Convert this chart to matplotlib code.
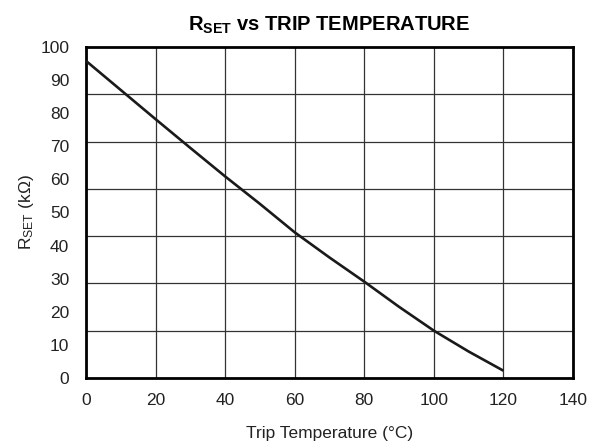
import matplotlib
matplotlib.use("Agg")
import matplotlib.pyplot as plt
import numpy as np

plt.rcParams['font.family'] = ['Liberation Sans', 'DejaVu Sans']
plt.rcParams['mathtext.fontset'] = 'custom'
plt.rcParams['mathtext.rm'] = 'Liberation Sans'
plt.rcParams['mathtext.bf'] = 'Liberation Sans:bold'
plt.rcParams['mathtext.it'] = 'Liberation Sans:italic'

temp_c = [0, 10, 20, 30, 40, 50, 60, 70, 80, 90, 100, 110, 120]
rset_kohm = [95.8, 87.0, 78.2, 69.5, 60.9, 52.6, 44.0, 36.4, 29.1, 21.5, 14.3, 8.0, 2.2]
x_ticks = [0, 20, 40, 60, 80, 100, 120, 140]
y_ticks = [0, 10, 20, 30, 40, 50, 60, 70, 80, 90, 100]
y_grid_divisions = 7

fig = plt.figure(figsize=(5.99, 4.47), dpi=100)
ax = fig.add_axes([86/599, 69/447, 487/599, 331/447])

ax.plot(temp_c, rset_kohm, color='#1a1a1a', lw=1.9, solid_capstyle='butt', zorder=3)

ax.set_xlim(0, 140)
ax.set_ylim(0, 100)
ax.set_xticks(x_ticks)
ax.set_yticks(y_ticks)
ax.set_yticks(np.linspace(0, 100, y_grid_divisions + 1), minor=True)
ax.tick_params(axis='both', which='both', length=0, labelsize=12.5, colors='#222222')
ax.tick_params(axis='y', pad=12)
ax.tick_params(axis='x', pad=11)
ax.grid(True, axis='x', which='major', color='#333333', lw=0.9)
ax.grid(True, axis='y', which='minor', color='#333333', lw=0.9)
ax.grid(False, axis='y', which='major')
for s in ax.spines.values():
    s.set_linewidth(2.0)
    s.set_color('black')

ax.set_xlabel('Trip Temperature (°C)', fontsize=12.5, color='#222222', labelpad=13)
ax.set_ylabel(r'R$_{\mathregular{SET}}$ (kΩ)', fontsize=12.5, color='#222222', labelpad=3)
ax.set_title(r'R$_{\mathbf{SET}}$ vs TRIP TEMPERATURE', fontsize=14.5, fontweight='bold', pad=12)

fig.savefig('out.png', dpi=100)
